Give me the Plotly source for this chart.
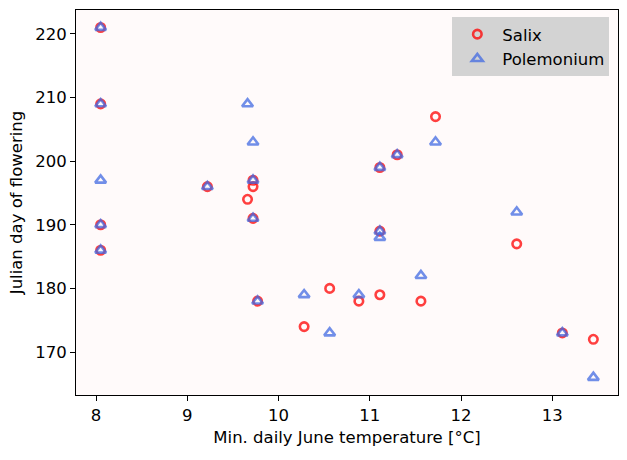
import plotly.graph_objects as go

salix_x = [8.05, 8.05, 8.05, 8.05, 9.22, 9.66, 9.72, 9.72, 9.72, 9.77, 10.28, 10.56,
           10.88, 11.11, 11.11, 11.11, 11.30, 11.56, 11.72, 12.61, 13.11, 13.45]
salix_y = [221, 209, 190, 186, 196, 194, 197, 196, 191, 178, 174, 180,
           178, 199, 189, 179, 201, 178, 207, 187, 173, 172]

polem_x = [8.05, 8.05, 8.05, 8.05, 8.05, 9.22, 9.66, 9.72, 9.72, 9.72, 9.77, 10.28,
           10.56, 10.88, 11.11, 11.11, 11.11, 11.30, 11.56, 11.72, 12.61, 13.11, 13.45]
polem_y = [221, 209, 197, 190, 186, 196, 209, 203, 197, 191, 178, 179,
           173, 179, 199, 189, 188, 201, 182, 203, 192, 173, 166]

x_ticks = [8, 9, 10, 11, 12, 13]
y_ticks = [170, 180, 190, 200, 210, 220]

FS = 16.5

fig = go.Figure()
fig.add_trace(go.Scatter(
    x=salix_x, y=salix_y, mode="markers", name="Salix",
    marker=dict(symbol="circle-open", size=8.5, color="rgba(255,0,0,0.75)",
                line=dict(width=2.6, color="rgba(255,0,0,0.75)")),
))
fig.add_trace(go.Scatter(
    x=polem_x, y=polem_y, mode="markers", name="Polemonium",
    marker=dict(symbol="triangle-up-open", size=9.5, color="rgba(65,105,225,0.75)",
                line=dict(width=2.6, color="rgba(65,105,225,0.75)")),
))

axis_common = dict(
    showgrid=False, zeroline=False, showline=True, linecolor="black", linewidth=1,
    mirror=True, ticks="outside", ticklen=5, tickwidth=1, tickcolor="black",
    tickfont=dict(size=FS, color="black"),
)

fig.update_layout(
    width=627, height=460,
    margin=dict(l=76, r=9, t=10, b=65),
    paper_bgcolor="white",
    plot_bgcolor="snow",
    font=dict(family="DejaVu Sans", size=FS, color="black"),
    xaxis=dict(range=[7.78, 13.72], tickvals=x_ticks,
               title=dict(text="Min. daily June temperature [°C]", font=dict(size=FS), standoff=7),
               **axis_common),
    yaxis=dict(range=[163.25, 223.75], tickvals=y_ticks,
               title=dict(text="Julian day of flowering", font=dict(size=FS), standoff=8),
               **axis_common),
    legend=dict(x=0.984, y=0.982, xanchor="right", yanchor="top",
                bgcolor="lightgrey", borderwidth=0,
                font=dict(size=FS, color="black"), itemwidth=40,
                tracegroupgap=2),
    showlegend=True,
)

fig.write_html("out.html")
